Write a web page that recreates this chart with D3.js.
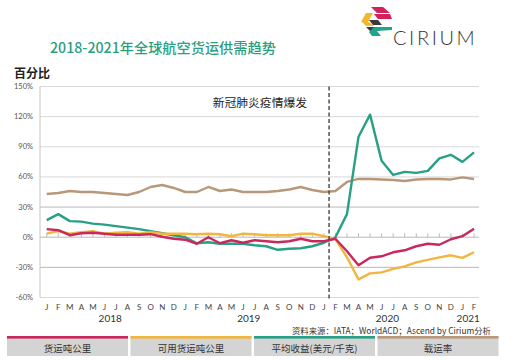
<!DOCTYPE html>
<html>
<head>
<meta charset="utf-8">
<script src="https://d3js.org/d3.v7.min.js"></script>
<style>
  body { margin: 0; background: #fff; }
  text { font-family: "Noto Sans CJK SC", "Noto Sans", sans-serif; }
  .latin { font-family: Lato, "Open Sans", sans-serif; }
</style>
</head>
<body>
<div id="chart"></div>
<script>
// Month letters Jan 2018 .. Feb 2021
const monthLabels = ["J","F","M","A","M","J","J","A","S","O","N","D",
                     "J","F","M","A","M","J","J","A","S","O","N","D",
                     "J","F","M","A","M","J","J","A","S","O","N","D",
                     "J","F"];
const years = [
  { label: "2018", from: 0, to: 11 },
  { label: "2019", from: 12, to: 23 },
  { label: "2020", from: 24, to: 35 },
  { label: "2021", from: 36, to: 37 }
];
const yTicks = [-60, -30, 0, 30, 60, 90, 120, 150];

// year-on-year change, %
const ctk = [8, 7, 2, 4, 4.5, 3.5, 2.5, 2.5, 2.5, 3, 0.5, -1.5,
             -2.5, -6.5, 0, -6, -3, -5.5, -3, -4, -5, -4, -1.5, -4,
             -4, -1.5, -14, -28, -20.5, -19, -15, -13, -9, -6.5, -7.5, -2,
             1, 8.5];
const actk = [3.5, 6, 3.5, 5, 6, 3.5, 4.5, 5, 3.5, 5, 3.5, 3.5,
              3.5, 3, 3.5, 3, 1, 3.5, 3, 2, 2, 2, 3.5, 3.5,
              1, -2, -20, -42, -36, -35, -31.5, -29, -25, -22.5, -20, -18,
              -20.5, -15];
const yieldChg = [17, 23, 16, 15.5, 13.5, 12.5, 11, 9.5, 8, 6, 4, 2,
                  0, -6, -5, -6.5, -6.5, -6.5, -8, -9, -12.5, -11.5, -11, -9,
                  -5.5, 0, 23, 100, 122, 76, 62, 65, 64, 66, 78.5, 82,
                  75, 84.5];
const loadFactor = [43, 44, 46, 45, 45, 44, 43, 42, 45, 50, 52, 49,
                    45, 45, 50, 46, 47.5, 45, 45, 45, 46, 47.5, 50, 47,
                    45, 46, 55, 58, 58, 57.5, 57, 56, 57.5, 58, 58, 57.5,
                    59.5, 58];
const outbreakIndex = 24.45;

const seriesNames = ["货运吨公里", "可用货运吨公里", "平均收益(美元/千克)", "载运率"];
const seriesColors = ["#c8285c", "#f2b53e", "#27a086", "#b8977a"];
const seriesData = [ctk, actk, yieldChg, loadFactor];

const W = 516, H = 362;
const svg = d3.select("#chart").append("svg").attr("width", W).attr("height", H);

const x = d3.scaleLinear().domain([0, monthLabels.length - 1]).range([46.7, 474]);
const y = d3.scaleLinear().domain([-60, 150]).range([297.5, 86.5]);
const plotLeft = 40, plotRight = 479;

// title
svg.append("text").attr("x", 50).attr("y", 53)
  .attr("font-size", 14.2).attr("font-weight", 500).attr("fill", "#2b9f80")
  .text("2018-2021年全球航空货运供需趋势");
svg.append("text").attr("x", 14).attr("y", 78)
  .attr("font-size", 12).attr("font-weight", 700).attr("fill", "#222")
  .text("百分比");

// logo
const logo = svg.append("g");
logo.append("polygon").attr("points", "371,7 383,7 390,13 377,13").attr("fill", "#d3215a");
logo.append("polygon").attr("points", "374,14 390,14 392,19 378,19").attr("fill", "#d3215a");
logo.append("polygon").attr("points", "366,13 373,13 368,22 361,22").attr("fill", "#f0b82c");
logo.append("polygon").attr("points", "362,22 369,22 374,26 366,26").attr("fill", "#f0b82c");
logo.append("polygon").attr("points", "369,20 378,20 382,25 373,25").attr("fill", "#3a3a3a");
logo.append("polygon").attr("points", "366,27 376,27 380,31 370,31").attr("fill", "#3a3a3a");
logo.append("polygon").attr("points", "374,27 392,27 392,30 377,31 381,36 372,36 369,32").attr("fill", "#21a58a");
svg.append("text").attr("class", "latin").attr("x", 393).attr("y", 45)
  .attr("font-size", 20).attr("font-weight", 300).attr("letter-spacing", 2.6)
  .attr("fill", "#333")
  .text("CIRIUM");

// grid
svg.append("g").selectAll("line").data(yTicks).join("line")
  .attr("x1", plotLeft).attr("x2", plotRight)
  .attr("y1", d => y(d)).attr("y2", d => y(d))
  .attr("stroke", d => (d === 30 || d === -30 || d === 0) ? "#b8b8b8" : "#d8d8d8")
  .attr("stroke-width", 1);
svg.append("line").attr("x1", plotLeft).attr("x2", plotLeft)
  .attr("y1", y(150)).attr("y2", y(-60)).attr("stroke", "#c4c4c4");

// y axis labels
svg.append("g").selectAll("text").data(yTicks).join("text")
  .attr("class", "latin")
  .attr("x", 33).attr("y", d => y(d) + 2.5)
  .attr("text-anchor", "end").attr("font-size", 7.5).attr("fill", "#555")
  .text(d => d + "%");

// month ticks on zero line
svg.append("g").selectAll("line").data(monthLabels).join("line")
  .attr("x1", (d, i) => x(i)).attr("x2", (d, i) => x(i))
  .attr("y1", y(0)).attr("y2", y(0) - 4)
  .attr("stroke", "#bbb");

// month labels
svg.append("g").selectAll("text").data(monthLabels).join("text")
  .attr("class", "latin")
  .attr("x", (d, i) => x(i)).attr("y", 309.5)
  .attr("text-anchor", "middle").attr("font-size", 8).attr("fill", "#444")
  .text(d => d);
svg.append("g").selectAll("text").data(years).join("text")
  .attr("class", "latin")
  .attr("x", d => (x(d.from) + x(d.to)) / 2).attr("y", 322)
  .attr("text-anchor", "middle").attr("font-size", 10).attr("fill", "#333")
  .text(d => d.label);

// lines
const line = d3.line().x((d, i) => x(i)).y(d => y(d));
const drawOrder = [3, 2, 1, 0];
svg.append("g").selectAll("path").data(drawOrder).join("path")
  .attr("d", k => line(seriesData[k]))
  .attr("fill", "none")
  .attr("stroke", k => seriesColors[k])
  .attr("stroke-width", 2.4)
  .attr("stroke-linejoin", "round");

// outbreak marker
svg.append("line")
  .attr("x1", x(outbreakIndex)).attr("x2", x(outbreakIndex))
  .attr("y1", y(150)).attr("y2", y(-60) + 2)
  .attr("stroke", "#444").attr("stroke-width", 1.4)
  .attr("stroke-dasharray", "4,2.5");
svg.append("text").attr("x", x(outbreakIndex) - 22).attr("y", 107)
  .attr("text-anchor", "end").attr("font-size", 11.8).attr("fill", "#222")
  .text("新冠肺炎疫情爆发");

// source
svg.append("text").attr("x", 491).attr("y", 334)
  .attr("text-anchor", "end").attr("font-size", 8.4).attr("fill", "#333")
  .text("资料来源：IATA；WorldACD；Ascend by Cirium分析");

// legend
const boxW = 121, boxGap = 2.5, boxX0 = 7;
const leg = svg.append("g").selectAll("g").data(seriesNames).join("g")
  .attr("transform", (d, i) => `translate(${boxX0 + i * (boxW + boxGap)},336)`);
leg.append("rect").attr("width", boxW).attr("height", 20).attr("fill", "#d4d4d4");
leg.append("rect").attr("width", boxW).attr("height", 2.6).attr("fill", (d, i) => seriesColors[i]);
leg.append("text").attr("x", boxW / 2).attr("y", 15.5)
  .attr("text-anchor", "middle").attr("font-size", 9.5).attr("fill", "#333")
  .text(d => d);
</script>
</body>
</html>
